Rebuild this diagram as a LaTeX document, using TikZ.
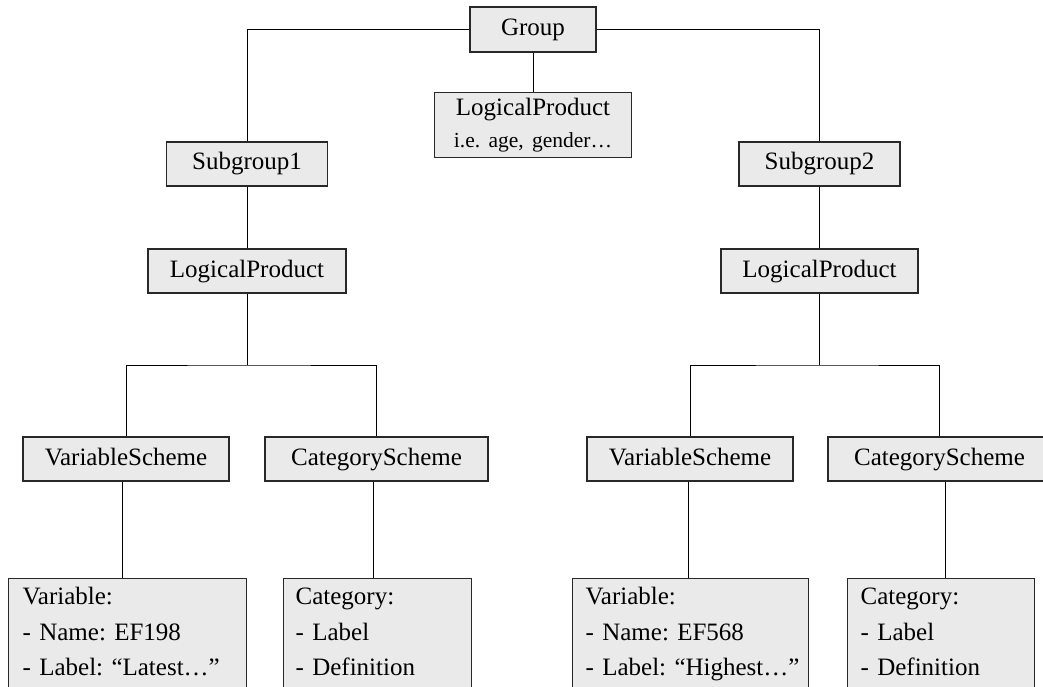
\documentclass[tikz,border=0pt]{standalone}
\usepackage{fontspec}
\setmainfont{Liberation Serif}
\definecolor{boxfill}{RGB}{234,234,234}
\definecolor{boxline}{RGB}{40,40,40}
\newcommand{\ind}[1]{\hspace*{#1pt}}
\tikzset{
  box/.style={draw=boxline, fill=boxfill, line width=1.3pt, inner sep=0pt,
    font=\fontsize{25}{32}\selectfont\frenchspacing, text height=18pt, text depth=6pt, minimum height=44pt},
  leafbox/.style={draw=boxline, fill=boxfill, line width=1.3pt, anchor=north west,
    inner xsep=0pt, inner ysep=0pt, align=left, font=\fontsize{25}{35.5}\selectfont\frenchspacing},
  conn/.style={draw=black, line width=1pt}
}
\begin{document}
\begin{tikzpicture}[x=1pt,y=-1pt]
\useasboundingbox (0,0) rectangle (1043,687);
\clip (0,0) rectangle (1043,687);
\fill[white] (0,0) rectangle (1043,687);

% top
\node[box, minimum width=126pt, minimum height=45pt] (grp) at (533,29.5) {Group};
\node[draw=boxline, fill=boxfill, line width=1.3pt, anchor=north, inner sep=0pt,
      text width=197pt, align=center, font=\fontsize{25}{32}\selectfont\frenchspacing] (lpt) at (533,92)
  {\rule{0pt}{23pt}LogicalProduct\\{\fontsize{21.5}{32}\selectfont i.e. age, gender…}\rule[-10pt]{0pt}{10pt}};

% subgroups
\node[box, minimum width=161pt] (sg1) at (247,164) {Subgroup1};
\node[box, minimum width=161pt] (sg2) at (819.5,164) {Subgroup2};

% logical products
\node[box, minimum width=198pt] (lpl) at (247,271) {LogicalProduct};
\node[box, minimum width=197pt] (lpr) at (819.5,271) {LogicalProduct};

% schemes
\node[box, minimum width=206pt] (vsl) at (126,459) {VariableScheme};
\node[box, minimum width=223pt] (csl) at (376.5,459) {CategoryScheme};
\node[box, minimum width=206pt] (vsr) at (690,459) {VariableScheme};
\node[box, minimum width=223pt] (csr) at (939.5,459) {CategoryScheme};

% leaves
\node[leafbox, text width=238pt] (varl) at (8,578)
  {\ind{14}\rule{0pt}{26pt}Variable:\\\ind{14}- Name: EF198\\\ind{14}- Label: “Latest…”\rule[-40pt]{0pt}{40pt}};
\node[leafbox, text width=188pt] (catl) at (283,578)
  {\ind{12}\rule{0pt}{26pt}Category:\\\ind{12}- Label\\\ind{12}- Definition\rule[-40pt]{0pt}{40pt}};
\node[leafbox, text width=236pt] (varr) at (572,578)
  {\ind{13}\rule{0pt}{26pt}Variable:\\\ind{13}- Name: EF568\\\ind{13}- Label: “Highest…”\rule[-40pt]{0pt}{40pt}};
\node[leafbox, text width=187pt] (catr) at (847,578)
  {\ind{13}\rule{0pt}{26pt}Category:\\\ind{13}- Label\\\ind{13}- Definition\rule[-40pt]{0pt}{40pt}};

% junctions
\coordinate (jl) at (247,365);
\coordinate (jr) at (819.5,365);

% connectors
\draw[conn] (grp.west) -| (sg1.north);
\draw[conn] (grp.east) -| (sg2.north);
\draw[conn] (grp.south) -- (lpt.north);
\draw[conn] (sg1.south) -- (lpl.north);
\draw[conn] (sg2.south) -- (lpr.north);
\draw[conn] (lpl.south) -- (jl);
\draw[conn] (vsl.north) |- (jl) -| (csl.north);
\draw[conn] (lpr.south) -- (jr);
\draw[conn] (vsr.north) |- (jr) -| (csr.north);
\draw[conn] ([xshift=-4pt]vsl.south) -- ([xshift=-4pt]vsl.south |- varl.north);
\draw[conn] ([xshift=-3.5pt]csl.south) -- ([xshift=-3.5pt]csl.south |- catl.north);
\draw[conn] ([xshift=-2pt]vsr.south) -- ([xshift=-2pt]vsr.south |- varr.north);
\draw[conn] ([xshift=5.5pt]csr.south) -- ([xshift=5.5pt]csr.south |- catr.north);
\end{tikzpicture}
\end{document}
